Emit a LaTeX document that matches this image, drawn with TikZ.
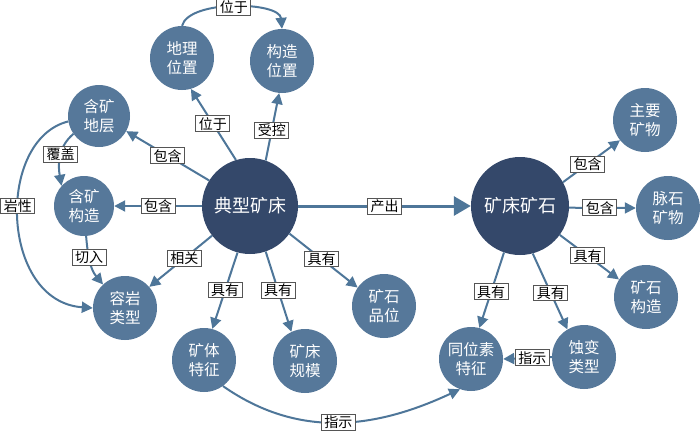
\documentclass[tikz,border=0pt]{standalone}
\usepackage{fontspec}
\newfontfamily\cjk{Noto Sans CJK SC}
\usetikzlibrary{arrows.meta}
\definecolor{bigc}{HTML}{34486A}
\definecolor{smallc}{HTML}{56789A}
\definecolor{linec}{HTML}{4E7699}
\definecolor{boxc}{HTML}{555555}
\tikzset{
  big/.style={circle,fill=bigc,draw=none,minimum size=96pt,inner sep=0pt,text=white,font=\cjk\fontsize{18}{20}\selectfont},
  small/.style={circle,fill=smallc,draw=none,minimum size=64pt,inner sep=0pt,text=white,align=center,font=\cjk\fontsize{15.5}{19}\selectfont},
  conn/.style={draw=linec,line width=2pt,-{Triangle[length=11pt,width=11pt]}},
  thickconn/.style={draw=linec,line width=3pt,-{Triangle[length=17pt,width=19pt]}},
  lbl/.style={fill=white,draw=boxc,line width=1pt,inner xsep=3pt,inner ysep=1.5pt,text=black,font=\cjk\fontsize{14}{15}\selectfont}
}
\begin{document}
\begin{tikzpicture}[x=1pt,y=1pt]
\useasboundingbox (0,0) rectangle (700,-432);
% main nodes
\node[big] (A) at (250,-206) {典型矿床};
\node[big,minimum size=98pt] (B) at (520,-206) {矿床矿石};
% small nodes
\node[small] (geo) at (182,-58) {地理\\位置};
\node[small] (stru) at (282,-61) {构造\\位置};
\node[small,minimum size=62pt] (strat) at (99,-116) {含矿\\地层};
\node[small,minimum size=60pt] (ores) at (84,-206) {含矿\\构造};
\node[small] (host) at (125,-308) {容岩\\类型};
\node[small] (body) at (204,-360) {矿体\\特征};
\node[small] (scale) at (305,-361) {矿床\\规模};
\node[small] (grade) at (384,-306) {矿石\\品位};
\node[small] (iso) at (471,-359) {同位素\\特征};
\node[small] (alt) at (584,-357) {蚀变\\类型};
\node[small] (ostr) at (646,-297) {矿石\\构造};
\node[small] (main) at (645,-120) {主要\\矿物};
\node[small] (gang) at (668,-208) {脉石\\矿物};
% edges from A
\draw[thickconn] (A.0) -- node[lbl,pos=.5] {产出} (B.180);
\draw[conn] (A.107) -- node[lbl,pos=.51] {位于} (geo.-74);
\draw[conn] (A.71) -- node[lbl,pos=.45] {受控} (stru.265);
\draw[conn] (A.148) -- node[lbl,pos=.5] {包含} (strat.-29);
\draw[conn] (A.180) -- node[lbl,pos=.5] {包含} (ores.0);
\draw[conn] (A.218) -- node[lbl,pos=.44] {相关} (host.41);
\draw[conn] (A.255) -- node[lbl,pos=.49] {具有} (body.75);
\draw[conn] (A.-71) -- node[lbl,pos=.48] {具有} (scale.115);
\draw[conn] (A.-35) -- node[lbl,pos=.47] {具有} (grade.145);
% edges from B
\draw[conn] (B.29) -- node[lbl,pos=.43] {包含} (main.219);
\draw[conn] (B.-2) -- node[lbl,pos=.46] {包含} (gang.180);
\draw[conn] (B.-36) -- node[lbl,pos=.47] {具有} (ostr.147);
\draw[conn] (B.-109) -- node[lbl,pos=.52] {具有} (iso.75);
\draw[conn] (B.-75) -- node[lbl,pos=.52] {具有} (alt.121);
% other edges
\draw[conn] (alt.180) -- node[lbl,pos=.4] {指示} (iso.0);
\draw[conn] (geo.90) to[out=75,in=95,looseness=.7] node[lbl,pos=.5] {位于} (stru.90);
\draw[conn] (strat.215) to[out=220,in=100] node[lbl,pos=.45] {覆盖} (ores.138);
\draw[conn] (strat.190) to[out=194,in=176,out distance=75pt,in distance=93pt] node[lbl,pos=.45] {岩性} (host.180);
\draw[conn] (ores.-86) to[out=-85,in=130] node[lbl,pos=.4] {切入} (host.133);
\draw[conn] (body.-54) to[out=-35,in=205] node[lbl,pos=.5] {指示} (iso.-110);
\end{tikzpicture}
\end{document}
